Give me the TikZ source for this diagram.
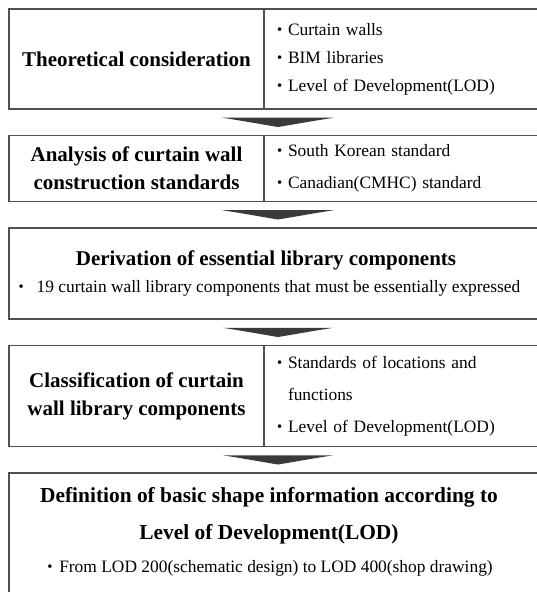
\documentclass[tikz,border=0pt]{standalone}
\usepackage{fontspec}
\setmainfont{Liberation Serif}
\usetikzlibrary{positioning}
\usetikzlibrary{calc}

\definecolor{boxgray}{HTML}{505050}
\definecolor{arrowgray}{HTML}{3A3A3A}

\newcommand\Dot[1][11pt]{\makebox[#1][l]{\raisebox{0.8pt}{\scalebox{0.85}{\textbullet}}}}

% flat wedge between two stages
\newcommand\Chevron[2]{%
	\fill[chevron] ($(#1)!0.33!(#2)$) coordinate (t) ++(-55.5,0) -- ++(111,0)
		.. controls ($(t)+(30,4)$) and ($(t)+(8,8)$) .. ($(#1)!0.68!(#2)$)
		.. controls ($(t)+(-8,8)$) and ($(t)+(-30,4)$) .. cycle;}

\begin{document}
\begin{tikzpicture}[x=1pt, y=-1pt]

\useasboundingbox (0,0) rectangle (537,592);
\clip (0,0) rectangle (537,592);

\def\LeftWidth{255pt}
\def\RightWidth{283pt}
\def\FullWidth{538pt}
\def\Spacing{26.5pt}

% Styles
\tikzstyle{frame} =
	[draw=boxgray, line width=1.5pt, inner sep=0pt, outer sep=0pt]

\tikzstyle{title} =
	[font=\fontsize{21}{28}\selectfont\bfseries, align=center]

\tikzstyle{stage} =
	[frame, title, minimum width=\LeftWidth]

\tikzstyle{points} =
	[frame, font=\fontsize{17.4}{32}\selectfont, align=left,
	 inner xsep=13pt, text width=\RightWidth-26pt, minimum width=\RightWidth]

\tikzstyle{wide} =
	[frame, minimum width=\FullWidth]

\tikzstyle{item} =
	[font=\fontsize{17.4}{28}\selectfont]

\tikzstyle{chevron} =
	[fill=arrowgray]

% Stages

\node (Theory) at (9, 9)
	[stage, anchor=north west, minimum height=100pt]
	{Theoretical consideration};
\node (TheoryPoints) [points, right=0pt of Theory, minimum height=100pt,
	font=\fontsize{17.4}{28}\selectfont]
	{\Dot Curtain walls\\ \Dot BIM libraries\\ \Dot Level of Development(LOD)};

\node (Analysis) [stage, below=\Spacing of Theory.south west, anchor=north west,
	minimum height=66pt]
	{Analysis of curtain wall\\ construction standards};
\node (AnalysisPoints) [points, right=0pt of Analysis, minimum height=66pt]
	{\Dot South Korean standard\\ \Dot Canadian(CMHC) standard};

\node (Derive) [wide, below=\Spacing of Analysis.south west, anchor=north west,
	minimum height=91pt] {};
\node (DeriveTitle) [title] at ($(Derive.north west)+(257,32)$)
	{Derivation of essential library components};
\node (DeriveItem) [item] at ($(Derive.north west)+(260.5,60)$)
	{\Dot[18pt]19 curtain wall library components that must be essentially expressed};

\node (Classify) [stage, below=\Spacing of Derive.south west, anchor=north west,
	minimum height=101pt]
	{Classification of curtain\\ wall library components};
\node (ClassifyPoints) [points, right=0pt of Classify, minimum height=101pt]
	{\Dot Standards of locations and\\ \hspace*{11pt}functions\\
	 \Dot Level of Development(LOD)};

\node (Define) [wide, below=\Spacing of Classify.south west, anchor=north west,
	minimum height=160pt] {};
\node (DefineTitle) [title, font=\fontsize{21.4}{37}\selectfont\bfseries]
	at ($(Define.north west)+(260,43)$)
	{Definition of basic shape information according to\\ Level of Development(LOD)};
\node (DefineItem) [item] at ($(Define.north west)+(261,95)$)
	{\Dot[12pt]From LOD 200(schematic design) to LOD 400(shop drawing)};

% Flow

\coordinate (TheoryEnd) at ($(Theory.south west)!0.5!(TheoryPoints.south east)$);
\coordinate (AnalysisTop) at ($(Analysis.north west)!0.5!(AnalysisPoints.north east)$);
\coordinate (AnalysisEnd) at ($(Analysis.south west)!0.5!(AnalysisPoints.south east)$);
\coordinate (ClassifyTop) at ($(Classify.north west)!0.5!(ClassifyPoints.north east)$);
\coordinate (ClassifyEnd) at ($(Classify.south west)!0.5!(ClassifyPoints.south east)$);

\Chevron{TheoryEnd}{AnalysisTop}
\Chevron{AnalysisEnd}{Derive.north}
\Chevron{Derive.south}{ClassifyTop}
\Chevron{ClassifyEnd}{Define.north}

\end{tikzpicture}
\end{document}
